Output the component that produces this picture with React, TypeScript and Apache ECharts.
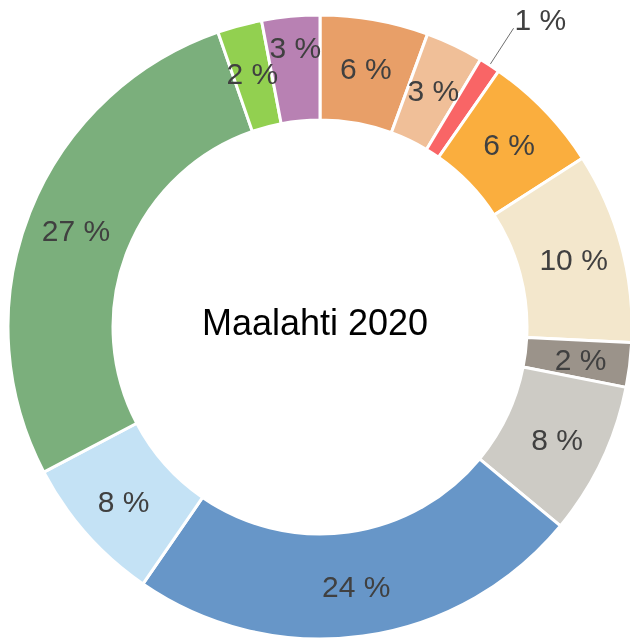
import React, { useEffect, useRef } from "react";
import * as echarts from "echarts";

const categories = [
  "Orange A", "Light orange", "Red", "Orange B", "Beige", "Gray",
  "Light gray", "Blue", "Light blue", "Green", "Light green", "Purple",
];
const values = [5.6, 3.0, 1.1, 6.2, 9.9, 2.3, 7.9, 23.6, 7.7, 27.4, 2.3, 3.0];
const labels = ["6", "3", "1", "6", "10", "2", "8", "24", "8", "27", "2", "3"];
const colors = [
  "#E89F68", "#F0BF98", "#F96566", "#FAAE3E", "#F3E7CC", "#9B938A",
  "#CDCBC5", "#6796C8", "#C4E2F5", "#7BAF7C", "#92D050", "#B881B3",
];
const title = "Maalahti 2020";

export default function App() {
  const ref = useRef<HTMLDivElement>(null);
  useEffect(() => {
    if (!ref.current) return;
    const chart = echarts.init(ref.current, null, { renderer: "svg" });
    chart.setOption({
      animation: false,
      graphic: [
        {
          type: "text",
          left: "center",
          top: 304,
          style: {
            text: title,
            fontSize: 36,
            fontFamily: "Liberation Sans, Arial, sans-serif",
            fill: "#000000",
          },
        },
      ],
      series: [
        {
          type: "pie",
          center: [320, 327],
          radius: [207, 312],
          startAngle: 90,
          clockwise: true,
          avoidLabelOverlap: false,
          itemStyle: { borderColor: "#ffffff", borderWidth: 3 },
          label: {
            show: true,
            position: "inside",
            fontSize: 30,
            fontFamily: "Liberation Sans, Arial, sans-serif",
            color: "#404040",
            formatter: (p: any) => `${labels[p.dataIndex]} %`,
          },
          labelLayout: (p: any) =>
            p.dataIndex === 11 ? { dy: -18 } : p.dataIndex === 2 ? { dx: -2, dy: -9 } : {},
          emphasis: { disabled: true },
          data: categories.map((name, i) => {
            const d: any = { name, value: values[i], itemStyle: { color: colors[i] } };
            if (i === 2) {
              d.label = { position: "outside", distanceToLabelLine: 3 };
              d.labelLine = { show: true, length: 44, length2: 0, lineStyle: { color: "#6f6f6f", width: 1 } };
            }
            return d;
          }),
        },
      ],
    });
    return () => chart.dispose();
  }, []);
  return (
    <div
      ref={ref}
      style={{ position: "fixed", left: 0, top: 0, width: 630, height: 640 }}
    />
  );
}
